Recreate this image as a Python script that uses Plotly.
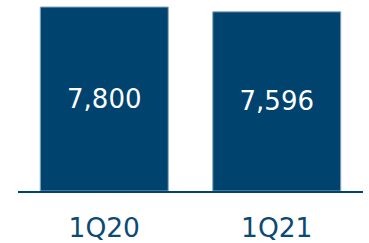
import plotly.graph_objects as go

categories = ["1Q20", "1Q21"]
values = [7800, 7596]
value_labels = ["7,800", "7,596"]

NAVY = "#00436E"

fig = go.Figure()
fig.add_trace(go.Bar(
    x=categories,
    y=values,
    text=value_labels,
    textposition="inside",
    insidetextanchor="middle",
    textangle=0,
    textfont=dict(family="DejaVu Sans", size=26, color="white"),
    marker=dict(color=NAVY, line=dict(color="#8AAAC4", width=1)),
    width=0.742,
))

fig.update_layout(
    width=369, height=243,
    margin=dict(l=18, r=6, t=0, b=52, autoexpand=False),
    paper_bgcolor="white", plot_bgcolor="white",
    showlegend=False,
    xaxis=dict(
        range=[-0.5, 1.5],
        showline=True, linecolor=NAVY, linewidth=2,
        showgrid=False, zeroline=False, ticks="",
        tickfont=dict(family="DejaVu Sans", size=26.5, color="#0B4A74"),
        ticklabelstandoff=12,
        automargin=False,
        fixedrange=True,
    ),
    yaxis=dict(
        range=[0, 8097], visible=False, showgrid=False, zeroline=False,
        automargin=False,
        fixedrange=True,
    ),
    uniformtext=dict(mode=False),
)

fig.write_html(
    "out.html",
    config={"displayModeBar": False},
    post_script="document.body.style.margin='0';document.body.style.padding='0';",
)
